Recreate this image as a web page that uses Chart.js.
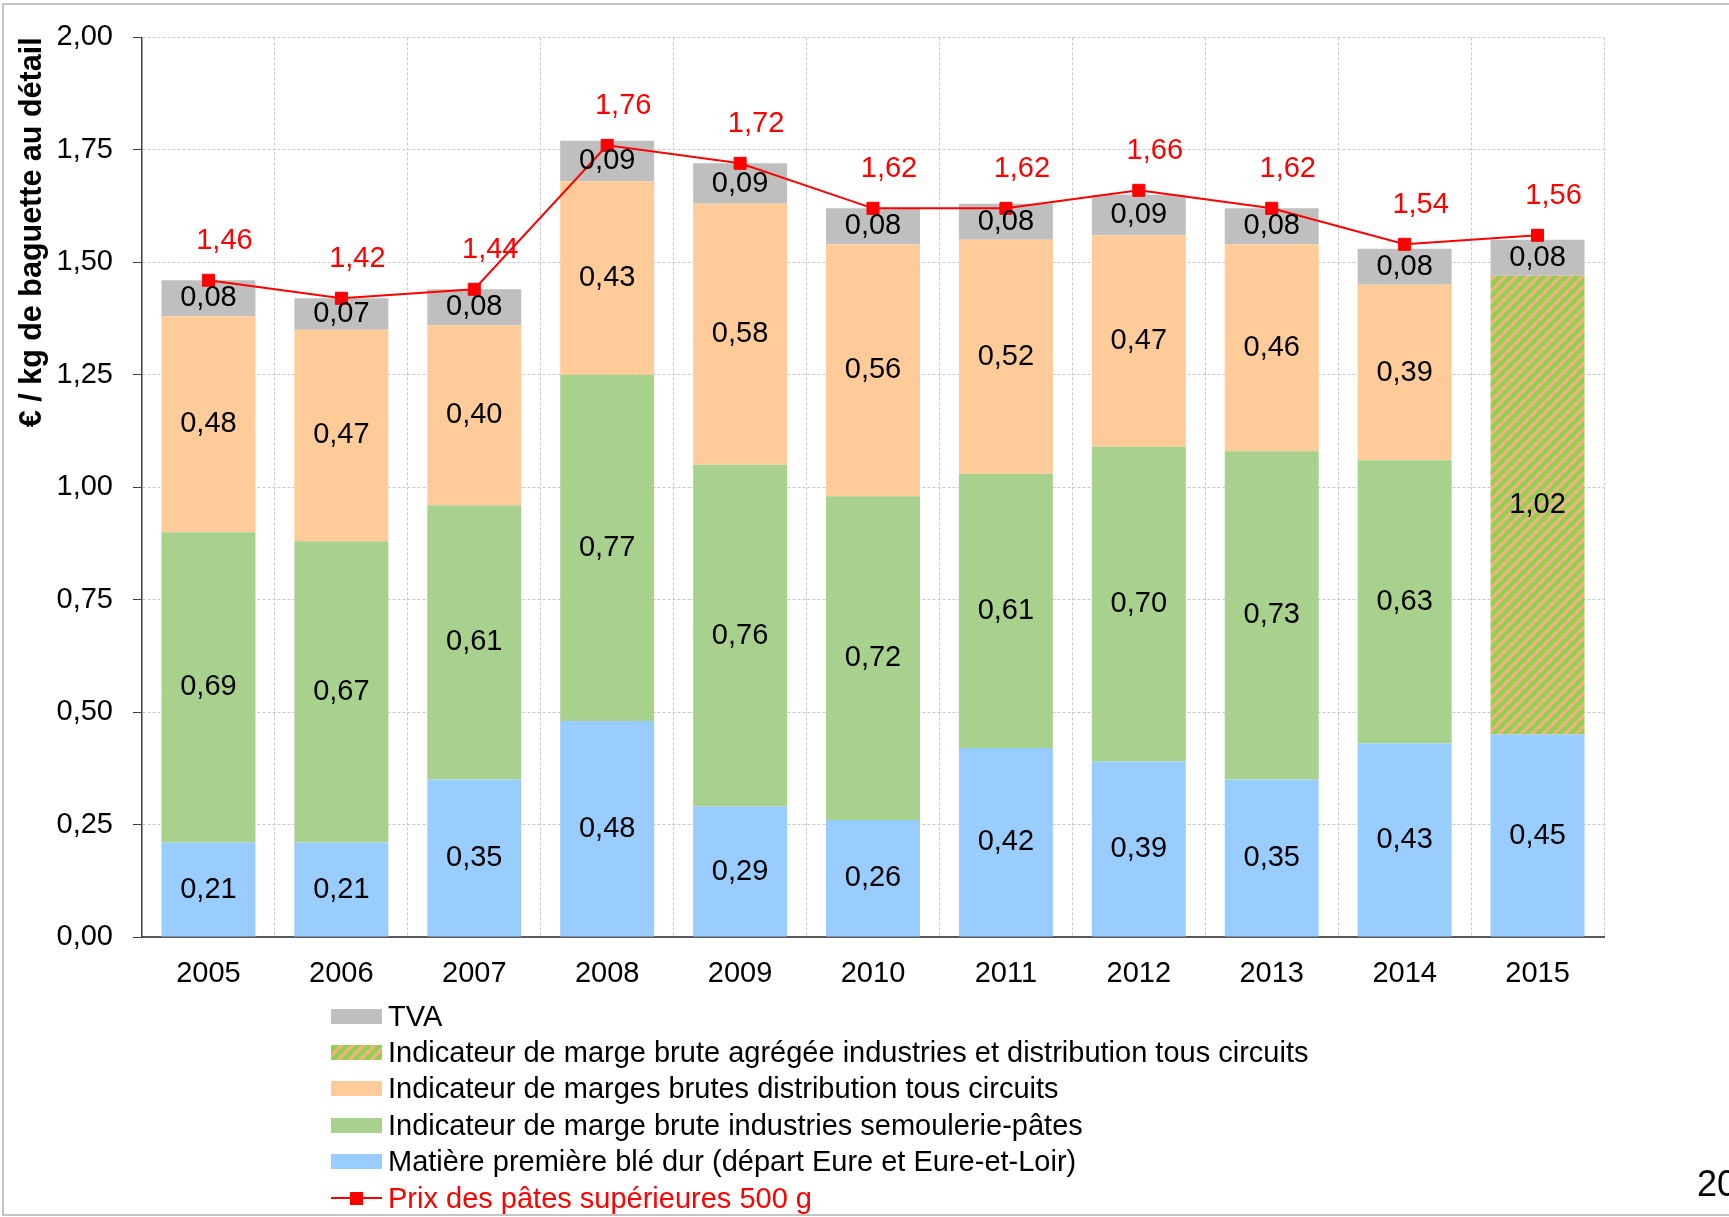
<!DOCTYPE html>
<html>
<head>
<meta charset="utf-8">
<script src="https://cdn.jsdelivr.net/npm/chart.js@4.4.1/dist/chart.umd.min.js"></script>
<style>
html,body{margin:0;padding:0;background:#fff;overflow:hidden;}
#wrap{position:relative;width:1729px;height:1217px;overflow:hidden;font-family:"Liberation Sans",Arial,sans-serif;}
#frame{position:absolute;left:2px;top:3px;width:1800px;height:1213px;border:2px solid #c4c4c4;box-sizing:border-box;}
#c{position:absolute;left:0;top:0;}
.li{position:absolute;left:331px;height:36px;white-space:nowrap;display:flex;align-items:center;font-size:29px;color:#000;}
.sw{display:inline-block;width:51px;height:15px;margin-right:6px;position:relative;}
.ln{display:inline-block;width:51px;height:15px;margin-right:6px;position:relative;}
.ln:before{content:"";position:absolute;left:0;right:0;top:6px;height:2px;background:#FF0000;}
.ln:after{content:"";position:absolute;left:19px;top:1px;width:13px;height:13px;background:#FF0000;}
#note{position:absolute;left:1697px;top:1163px;font-size:36px;color:#000;white-space:nowrap;}
</style>
</head>
<body>
<div id="wrap">
  <div id="frame"></div>
  <canvas id="c" width="1729" height="1217"></canvas>
  <div id="legend"></div>
  <div id="note">20</div>
</div>
<script>
// ---- Data ----
const years = ['2005','2006','2007','2008','2009','2010','2011','2012','2013','2014','2015'];
const bleDur = [0.21, 0.21, 0.35, 0.48, 0.29, 0.26, 0.42, 0.39, 0.35, 0.43, 0.45];
const margeIndustries = [0.69, 0.67, 0.61, 0.77, 0.76, 0.72, 0.61, 0.70, 0.73, 0.63, null];
const margesDistribution = [0.48, 0.47, 0.40, 0.43, 0.58, 0.56, 0.52, 0.47, 0.46, 0.39, null];
const margeAgregee = [null, null, null, null, null, null, null, null, null, null, 1.02];
const tva = [0.08, 0.07, 0.08, 0.09, 0.09, 0.08, 0.08, 0.09, 0.08, 0.08, 0.08];
const prix = [1.46, 1.42, 1.44, 1.76, 1.72, 1.62, 1.62, 1.66, 1.62, 1.54, 1.56];

const nameBle = 'Matière première blé dur (départ Eure et Eure-et-Loir)';
const nameIndustries = 'Indicateur de marge brute industries semoulerie-pâtes';
const nameDistribution = 'Indicateur de marges brutes distribution tous circuits';
const nameAgregee = 'Indicateur de marge brute agrégée industries et distribution tous circuits';
const nameTva = 'TVA';
const namePrix = 'Prix des pâtes supérieures 500 g';
const yTitle = '€ / kg de baguette au détail';

const FONT = '"Liberation Sans", Arial, sans-serif';
const fmt = v => v.toFixed(2).replace('.', ',');

// hatch pattern
const P = 11;
const tile = document.createElement('canvas');
tile.width = P; tile.height = P;
const tc = tile.getContext('2d');
tc.fillStyle = '#92D050';
tc.fillRect(0, 0, P, P);
tc.strokeStyle = '#F4B183';
tc.lineWidth = 3.2;
tc.beginPath();
tc.moveTo(-P / 2, P / 2); tc.lineTo(P / 2, -P / 2);
tc.moveTo(0, P); tc.lineTo(P, 0);
tc.moveTo(P / 2, P * 1.5); tc.lineTo(P * 1.5, P / 2);
tc.stroke();
const ctx = document.getElementById('c').getContext('2d');
const hatch = ctx.createPattern(tile, 'repeat');

Chart.defaults.font.family = FONT;
Chart.defaults.color = '#000';

const labelPlugin = {
  id: 'valueLabels',
  afterDatasetsDraw(chart) {
    const c = chart.ctx;
    c.save();
    c.font = '29px ' + FONT;
    c.textAlign = 'center';
    c.textBaseline = 'middle';
    chart.data.datasets.forEach((ds, i) => {
      const meta = chart.getDatasetMeta(i);
      meta.data.forEach((el, j) => {
        const v = ds.data[j];
        if (v == null) return;
        if (ds.type === 'line') {
          c.fillStyle = '#FF0000';
          c.fillText(fmt(v), el.x + 16, el.y - 39);
        } else {
          c.fillStyle = '#000';
          c.fillText(fmt(v), el.x, (el.y + el.base) / 2);
        }
      });
    });
    c.restore();
  }
};

const barCommon = { type: 'bar', stack: 'bars', barPercentage: 0.707, categoryPercentage: 1.0, borderWidth: 0 };

const chart = new Chart(ctx, {
  data: {
    labels: years,
    datasets: [
      { type: 'line', label: namePrix, data: prix, stack: 'line', order: 0,
        borderColor: '#FF0000', backgroundColor: '#FF0000', borderWidth: 2,
        pointStyle: 'rect', pointRadius: 8.5, pointBorderWidth: 1,
        pointBackgroundColor: '#FF0000', pointBorderColor: '#FF0000', tension: 0 },
      Object.assign({ label: nameBle, data: bleDur, backgroundColor: '#99CCFF', order: 1 }, barCommon),
      Object.assign({ label: nameIndustries, data: margeIndustries, backgroundColor: '#A9D18E', order: 1 }, barCommon),
      Object.assign({ label: nameDistribution, data: margesDistribution, backgroundColor: '#FFCC99', order: 1 }, barCommon),
      Object.assign({ label: nameAgregee, data: margeAgregee, backgroundColor: hatch, order: 1 }, barCommon),
      Object.assign({ label: nameTva, data: tva, backgroundColor: '#BFBFBF', order: 1 }, barCommon)
    ]
  },
  options: {
    responsive: false,
    animation: false,
    layout: { padding: { top: 34, right: 125, bottom: 0, left: 0 } },
    plugins: { legend: { display: false }, tooltip: { enabled: false } },
    scales: {
      x: {
        stacked: true,
        offset: true,
        grid: { display: true, offset: true, color: '#C8C8C8', lineWidth: 1, drawTicks: false },
        border: { display: true, color: '#595959', width: 2, dash: [3, 2] },
        ticks: { font: { size: 29 }, color: '#000', padding: 20 },
        afterFit: s => { s.height = 280; }
      },
      y: {
        stacked: true,
        min: 0, max: 2,
        grid: { color: '#C8C8C8', lineWidth: 1, drawTicks: true, tickLength: 9, tickColor: '#404040', tickBorderDash: [] },
        border: { display: true, color: '#404040', width: 1.5, dash: [3, 2] },
        ticks: { stepSize: 0.25, font: { size: 29 }, color: '#000', padding: 20, callback: v => fmt(v) },
        title: { display: true, text: yTitle, align: 'end', font: { size: 30.5, weight: 'bold' }, color: '#000', padding: { top: 14, bottom: 0 } },
        afterFit: s => { s.width = 142; }
      }
    }
  },
  plugins: [labelPlugin]
});

// ---- HTML legend (single column, bottom) ----
const legendItems = [
  { text: nameTva, bg: '#BFBFBF' },
  { text: nameAgregee, bg: 'url(' + tile.toDataURL() + ')' },
  { text: nameDistribution, bg: '#FFCC99' },
  { text: nameIndustries, bg: '#A9D18E' },
  { text: nameBle, bg: '#99CCFF' },
  { text: namePrix, line: true }
];
const lg = document.getElementById('legend');
legendItems.forEach((it, i) => {
  const row = document.createElement('div');
  row.className = 'li';
  row.style.top = (1016 + i * 36.4 - 18) + 'px';
  const sw = document.createElement('span');
  if (it.line) { sw.className = 'ln'; row.style.color = '#FF0000'; }
  else { sw.className = 'sw'; sw.style.background = it.bg; }
  row.appendChild(sw);
  const t = document.createElement('span');
  t.textContent = it.text;
  row.appendChild(t);
  lg.appendChild(row);
});
</script>
</body>
</html>
